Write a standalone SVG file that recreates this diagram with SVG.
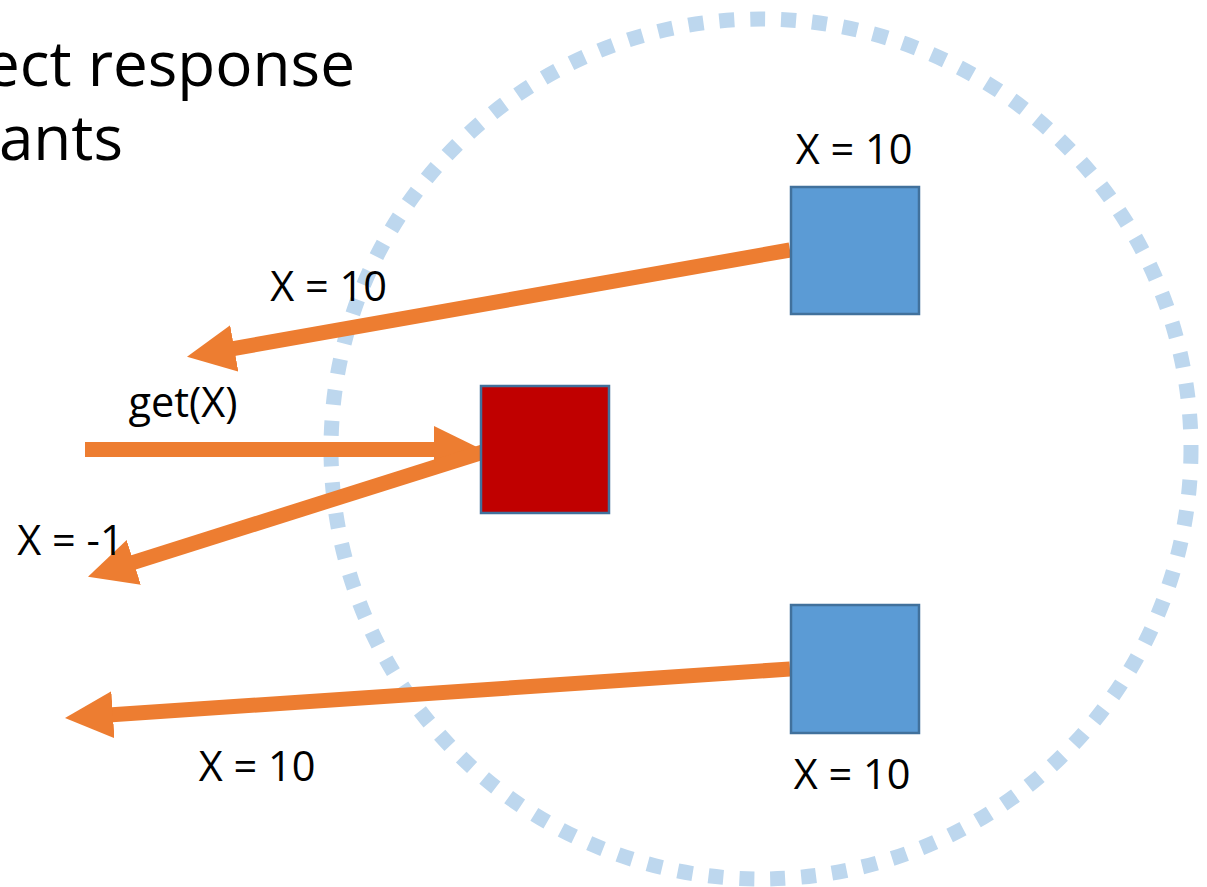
<svg xmlns="http://www.w3.org/2000/svg" width="1207" height="887" viewBox="0 0 1207 887">
  <style>
    .lbl { font-family: "Open Sans", "Liberation Sans", sans-serif; font-size: 41.5px; fill: #000; text-anchor: middle; }
    .title { font-family: "Open Sans", "Liberation Sans", sans-serif; font-size: 62px; fill: #000; text-anchor: end; }
    .arrow { stroke: #ED7D31; stroke-width: 15; fill: none; marker-end: url(#head); }
    .blue { fill: #5B9BD5; stroke: #41719C; stroke-width: 2.5; }
    .red { fill: #C00000; stroke: #41719C; stroke-width: 2.5; }
  </style>
  <defs>
    <marker id="head" viewBox="0 -24 48 48" markerWidth="48" markerHeight="48" refX="1" refY="0" orient="auto" markerUnits="userSpaceOnUse">
      <path d="M0,-23.5 L48,0 L0,23.5 Z" fill="#ED7D31"/>
    </marker>
  </defs>
  <rect width="1207" height="887" fill="#fff"/>
  <g id="title">
    <text class="title" x="355" y="86">ect response</text>
    <text class="title" x="123" y="160">ants</text>
  </g>
  <g id="boundary">
    <circle cx="761" cy="449" r="430" fill="none" stroke="#BDD7EE" stroke-width="15" stroke-dasharray="15 16"/>
  </g>
  <g id="connectors">
    <line class="arrow" x1="790" y1="250" x2="233.3" y2="348.6"/>
    <line class="arrow" x1="85" y1="449.5" x2="435" y2="449.5"/>
    <line class="arrow" x1="483" y1="452" x2="132.8" y2="562.6"/>
    <line class="arrow" x1="790" y1="669" x2="111.9" y2="714.8"/>
  </g>
  <g id="node-top">
    <rect class="blue" x="791" y="187" width="128" height="127"/>
    <text class="lbl" x="854" y="164">X = 10</text>
  </g>
  <g id="node-center">
    <rect class="red" x="481" y="386" width="128" height="127"/>
  </g>
  <g id="node-bottom">
    <rect class="blue" x="791" y="605" width="128" height="128"/>
    <text class="lbl" x="852" y="789">X = 10</text>
  </g>
  <g id="labels">
    <text class="lbl" x="328.5" y="301">X = 10</text>
    <text class="lbl" x="183" y="417">get(X)</text>
    <text class="lbl" x="70.5" y="555">X = -1</text>
    <text class="lbl" x="257" y="781">X = 10</text>
  </g>
</svg>
